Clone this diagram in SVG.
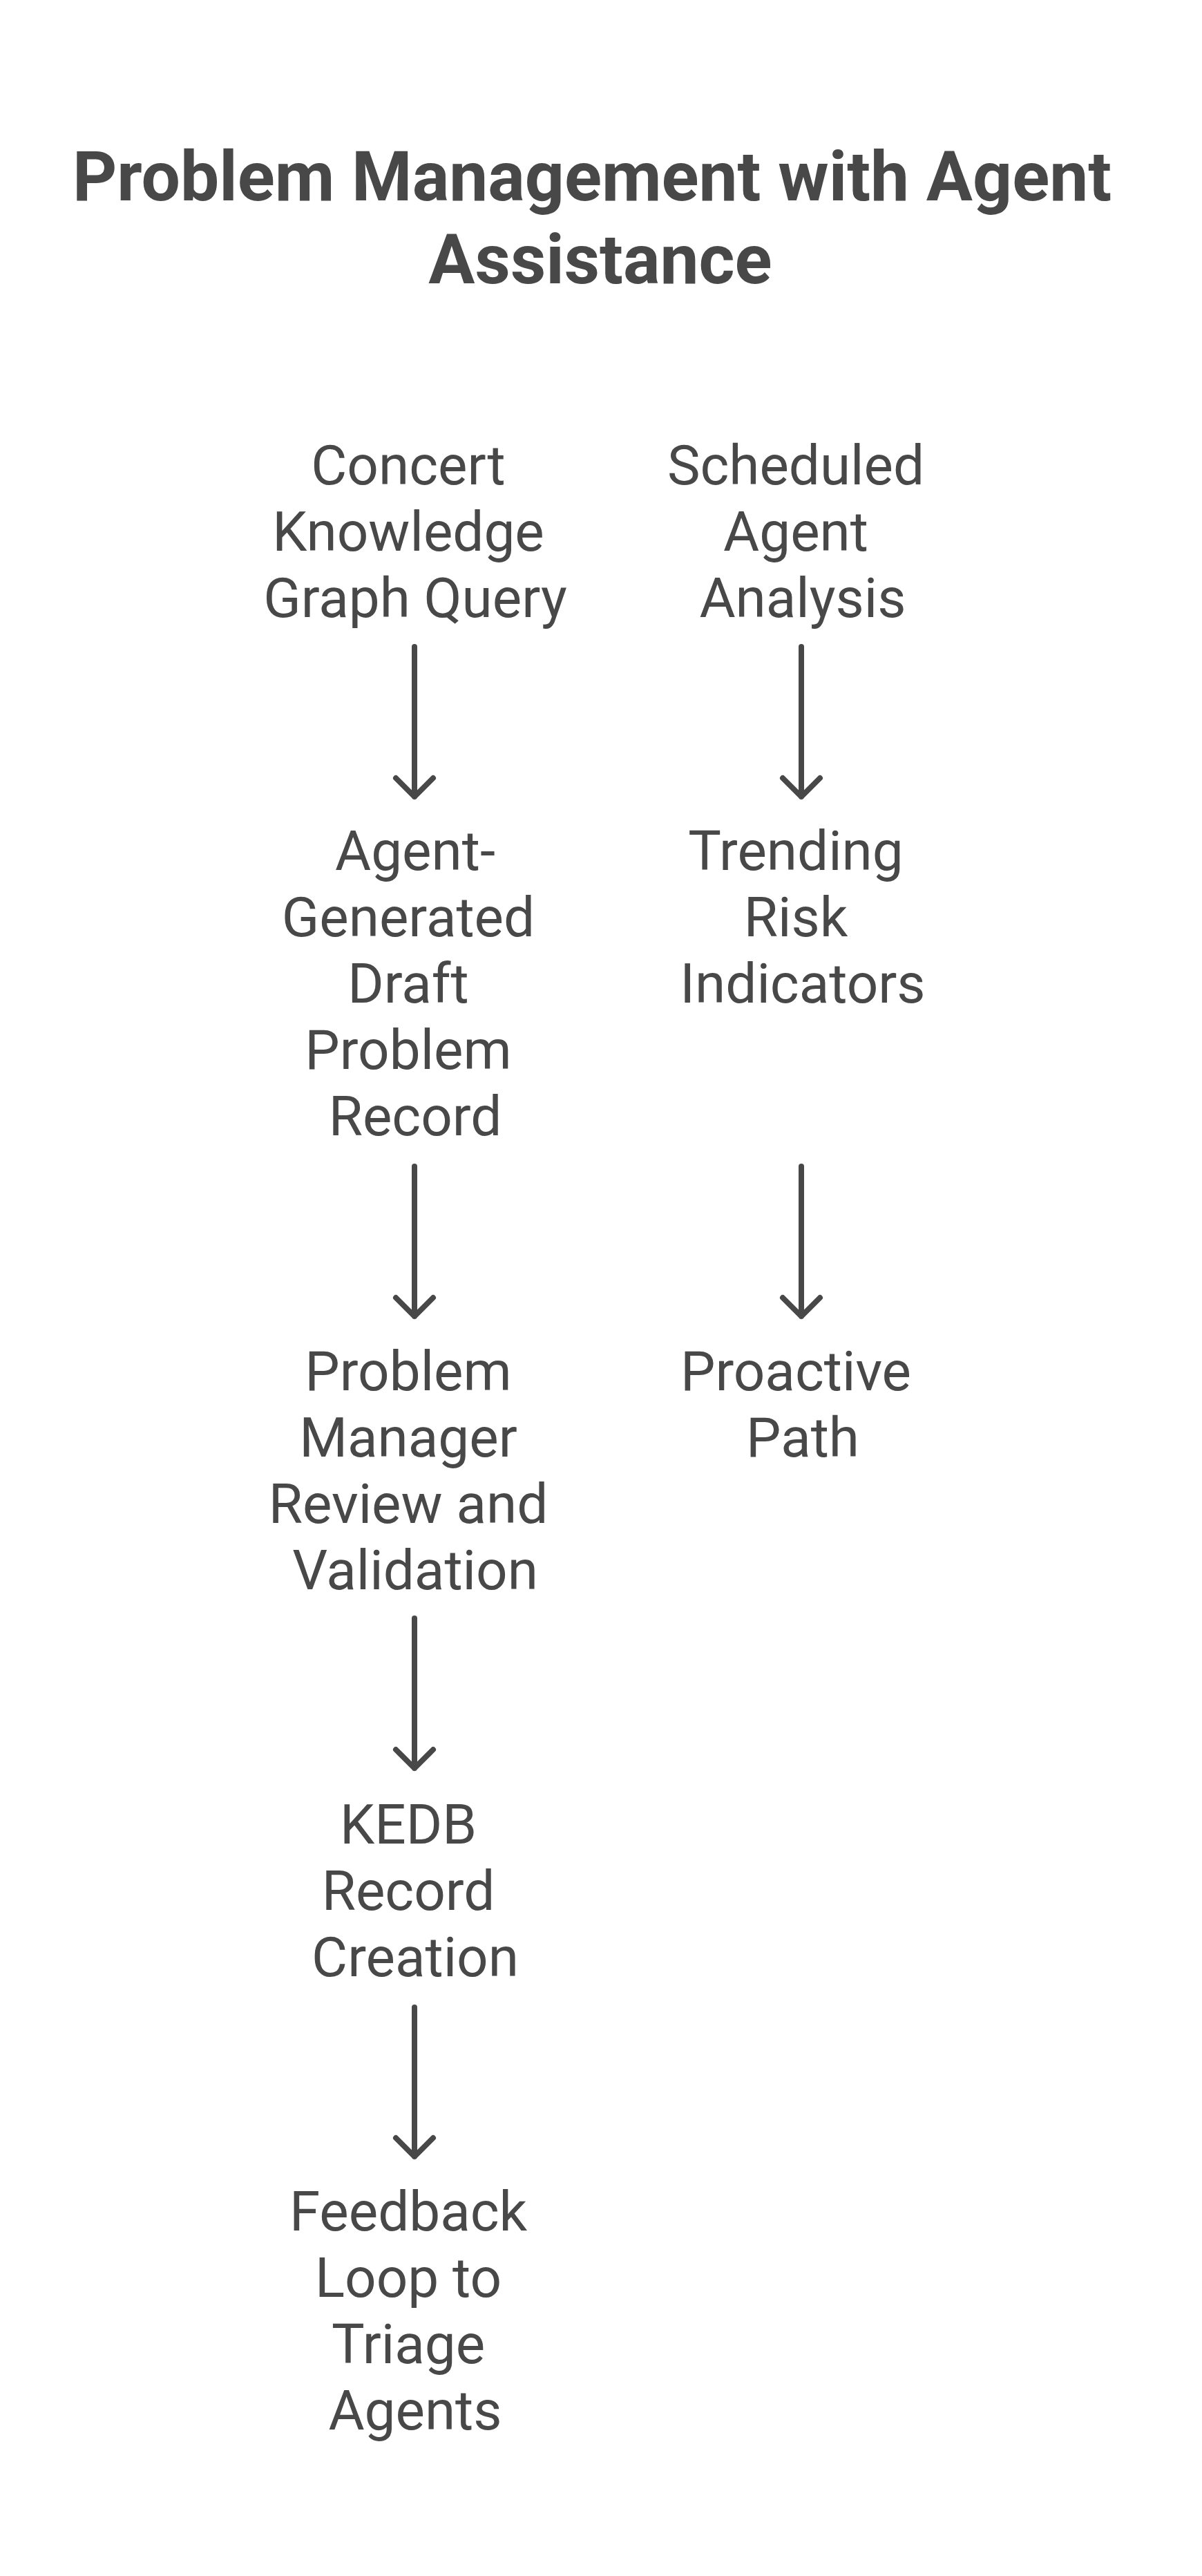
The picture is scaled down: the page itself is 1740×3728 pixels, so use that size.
<svg xmlns="http://www.w3.org/2000/svg" width="1740" height="3728" viewBox="0 0 1740 3728">
<style>
.t{font-family:Roboto,"Liberation Sans",sans-serif;font-weight:700;font-size:100px;fill:#484848;text-anchor:middle}
.n{font-family:Roboto,"Liberation Sans",sans-serif;font-size:80px;fill:#484848;text-anchor:middle}
.c{stroke:#484848;stroke-width:8;fill:none;stroke-linecap:round;stroke-linejoin:round}
</style>
<rect width="1740" height="3728" fill="#ffffff"/>
<g id="title">
<text class="t" x="857" y="290">Problem Management with Agent</text>
<text class="t" x="869" y="410">Assistance</text>
</g>
<g id="node-concert">
<text class="n" x="591" y="701">Concert</text>
<text class="n" x="591" y="797">Knowledge</text>
<text class="n" x="601" y="893">Graph Query</text>
</g>
<g id="node-draft">
<text class="n" x="601" y="1259">Agent-</text>
<text class="n" x="591" y="1355">Generated</text>
<text class="n" x="591" y="1451">Draft</text>
<text class="n" x="591" y="1547">Problem</text>
<text class="n" x="601" y="1643">Record</text>
</g>
<g id="node-review">
<text class="n" x="591" y="2012">Problem</text>
<text class="n" x="591" y="2108">Manager</text>
<text class="n" x="591" y="2204">Review and</text>
<text class="n" x="601" y="2300">Validation</text>
</g>
<g id="node-kedb">
<text class="n" x="591" y="2668">KEDB</text>
<text class="n" x="591" y="2764">Record</text>
<text class="n" x="601" y="2860">Creation</text>
</g>
<g id="node-feedback">
<text class="n" x="591" y="3228">Feedback</text>
<text class="n" x="591" y="3324">Loop to</text>
<text class="n" x="591" y="3420">Triage</text>
<text class="n" x="601" y="3516">Agents</text>
</g>
<g id="node-scheduled">
<text class="n" x="1152" y="701">Scheduled</text>
<text class="n" x="1152" y="797">Agent</text>
<text class="n" x="1162" y="893">Analysis</text>
</g>
<g id="node-trending">
<text class="n" x="1152" y="1259">Trending</text>
<text class="n" x="1152" y="1355">Risk</text>
<text class="n" x="1162" y="1451">Indicators</text>
</g>
<g id="node-proactive">
<text class="n" x="1152" y="2012">Proactive</text>
<text class="n" x="1162" y="2108">Path</text>
</g>
<g id="connectors">
<path class="c" d="M600 936V1153M573 1126L600 1153L627 1126"/>
<path class="c" d="M600 1688V1905M573 1878L600 1905L627 1878"/>
<path class="c" d="M600 2342V2559M573 2532L600 2559L627 2532"/>
<path class="c" d="M600 2905V3121M573 3094L600 3121L627 3094"/>
<path class="c" d="M1160 936V1153M1133 1126L1160 1153L1187 1126"/>
<path class="c" d="M1160 1688V1905M1133 1878L1160 1905L1187 1878"/>
</g>
</svg>
